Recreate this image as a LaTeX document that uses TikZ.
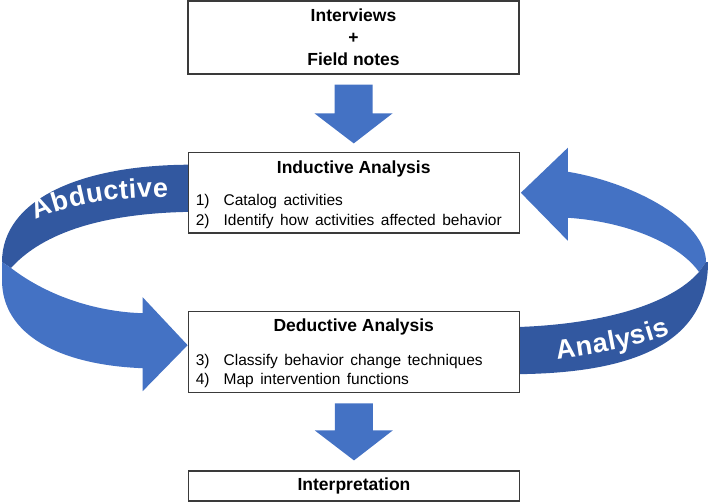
\documentclass[tikz,border=0pt]{standalone}
\usepackage{fontspec}
\setmainfont{Liberation Sans}
\usepackage{tikz}
\usetikzlibrary{positioning,calc,backgrounds,decorations.text}
\definecolor{ribbonlight}{HTML}{4472C4}
\definecolor{ribbondark}{HTML}{3258A0}
\definecolor{boxline}{HTML}{3A3A3A}
\tikzset{
  stagebox/.style={draw=boxline, line width=1.2pt, fill=white, minimum width=331,
                   inner sep=0pt, align=center},
  stagetitle/.style={font=\fontsize{17.5}{22}\selectfont\bfseries, inner sep=0pt, align=center},
  stagelist/.style={font=\fontsize{15.5}{19.3}\selectfont, inner sep=0pt, align=left,
                    execute at begin node={\spaceskip=6.5pt\relax}},
  ribbontext/.style={decorate, decoration={text along path, text align=fit to path,
                     text color=white, text={|\fontsize{27}{27}\selectfont\bfseries|#1}}},
}
\newcommand{\blockarrow}[2]{%
  \fill[ribbonlight] let \p1=(#1), \p2=(#2) in
    (\x1-19,\y1) -- (\x1+19,\y1) -- (\x1+19,\y2+30) -- (\x1+39,\y2+30)
    -- (\x2,\y2) -- (\x1-39,\y2+30) -- (\x1-19,\y2+30) -- cycle;
}

\begin{document}
\begin{tikzpicture}[x=1pt, y=-1pt]
    \useasboundingbox (0,0) rectangle (708,502);
    % stages
    \node[stagebox, stagetitle, minimum height=73] (data) at (353.5,37.5) {Interviews\\+\\Field notes};
    \node[stagebox, minimum height=80.5] (ind) at (353.75,192.75) {};
    \node[stagetitle] (indt) at ($(ind.center)+(0,-24)$) {Inductive Analysis};
    \node[stagelist, anchor=west] (indl) at ($(ind.west)+(8,18.7)$)
      {1)\hspace{14pt}Catalog activities\\2)\hspace{14pt}Identify how activities affected behavior};
    \node[stagebox, minimum height=81] (ded) at (353.75,352.2) {};
    \node[stagetitle] (dedt) at ($(ded.center)+(0,-25)$) {Deductive Analysis};
    \node[stagelist, anchor=west] (dedl) at ($(ded.west)+(8,18.7)$)
      {3)\hspace{14pt}Classify behavior change techniques\\4)\hspace{14pt}Map intervention functions};
    \node[stagebox, stagetitle, minimum height=30] (interp) at (354,486) {Interpretation};

    % down arrows
    \coordinate (a1) at ($(data.south)+(0,10)$);
    \coordinate (a1tip) at ($(ind.north)+(0,-8.5)$);
    \coordinate (a2) at ($(ded.south)+(0,10)$);
    \coordinate (a2tip) at ($(interp.north)+(0,-10)$);
    \blockarrow{a1}{a1tip}
    \blockarrow{a2}{a2tip}

    % ribbons
    \coordinate (abtip) at ($(ded.west)+(0,-7)$);
    \coordinate (antip) at ($(ind.east)+(1,0)$);
    \begin{scope}[on background layer]
      \fill[ribbondark] ($(ind.west)+(12,-28)$) .. controls (80,163) and (2,200) .. (2,262)
        -- (11,268) .. controls (38,238) and (92,212) .. ($(ind.west)+(12,19)$) -- cycle;
      \fill[ribbonlight] (11,268) .. controls (50,298) and (100,312) .. ($(abtip)+(-45,-32)$)
        -- ($(abtip)+(-45,-48)$) -- (abtip) -- ($(abtip)+(-45,46)$) -- ($(abtip)+(-45,23)$)
        .. controls (60,365) and (2,335) .. (2,280) -- (2,262) -- cycle;
      \fill[ribbonlight] ($(antip)+(47,-21)$) .. controls (635,183) and (706,222) .. (706,262)
        -- (699,272) .. controls (680,245) and (630,222) .. ($(antip)+(47,25)$)
        -- ($(antip)+(47,48)$) -- (antip) -- ($(antip)+(47,-45)$) -- cycle;
      \fill[ribbondark] (699,272) .. controls (670,305) and (600,325) .. ($(ded.east)+(-8,-25)$)
        -- ($(ded.east)+(-8,22)$) .. controls (630,374) and (708,345) .. (708,262)
        -- (706,262) -- cycle;
    \end{scope}
    \path[ribbontext=Abductive] (36,220) .. controls (72,203) and (118,197) .. (168,197);
    \path[ribbontext=Analysis] (557,359) .. controls (600,353) and (640,347) .. (670,334);
\end{tikzpicture}
\end{document}
